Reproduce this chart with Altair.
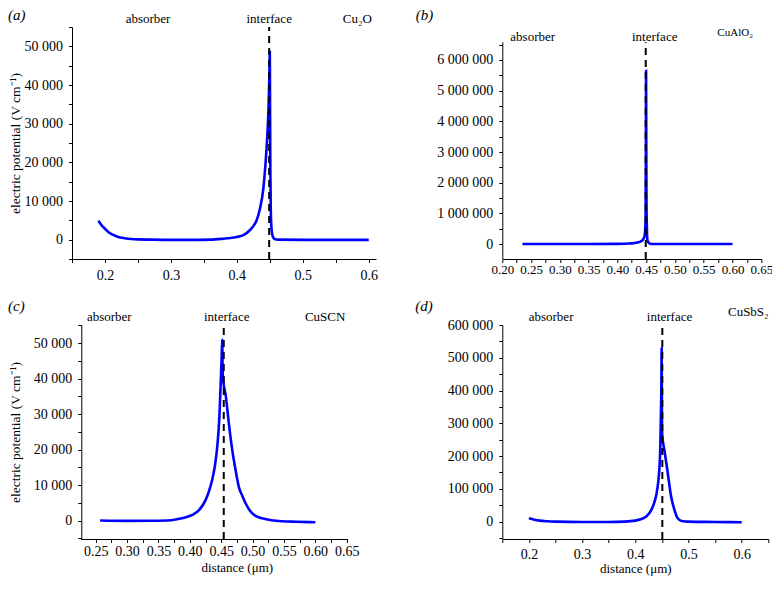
import altair as alt
import pandas as pd

# ---------------- data ----------------
# (a) Cu2O
xa = [0.19, 0.195, 0.20, 0.205, 0.21, 0.215, 0.22, 0.23, 0.24, 0.25, 0.27, 0.30, 0.33, 0.36,
      0.38, 0.39, 0.40, 0.41, 0.42, 0.425, 0.43, 0.435, 0.44, 0.444, 0.4465, 0.448, 0.4493,
      0.4500, 0.4503, 0.4508, 0.4515, 0.453, 0.455, 0.458, 0.462, 0.50, 0.55, 0.60]
ya = [4900, 3700, 2800, 2000, 1450, 1050, 700, 380, 180, 80, 10, -50, -50, 0,
      250, 420, 700, 1150, 2500, 3500, 5000, 8000, 13000, 21000, 28000, 34000, 42000,
      48500, 35000, 18000, 7000, 2000, 600, 100, 0, -50, -50, -50]

# (b) CuAlO2
xb = [0.235, 0.30, 0.35, 0.40, 0.42, 0.43, 0.44, 0.445, 0.447, 0.448, 0.449, 0.4494, 0.4498,
      0.4502, 0.4506, 0.451, 0.4515, 0.452, 0.454, 0.457, 0.46, 0.50, 0.55, 0.60]
yb = [0, 0, 0, 5000, 15000, 35000, 80000, 160000, 250000, 400000, 900000, 2500000, 5650000,
      3000000, 1250000, 700000, 300000, 150000, 50000, 10000, 0, 0, 0, 0]

# (c) CuSCN
xc = [0.257, 0.30, 0.34, 0.37, 0.385, 0.395, 0.404, 0.415, 0.425, 0.43, 0.436, 0.44, 0.444,
      0.447, 0.449, 0.4505, 0.4516, 0.4522, 0.4535, 0.457, 0.4623, 0.4677, 0.473, 0.478,
      0.484, 0.489, 0.4995, 0.507, 0.515, 0.53, 0.547, 0.57, 0.60]
yc = [0, -100, -50, 100, 560, 1000, 1600, 3000, 5750, 8000, 11800, 15500, 21500,
      29000, 38000, 45000, 51000, 42000, 39000, 35400, 27100, 19700, 14100, 9500,
      6800, 4800, 2000, 1100, 650, 100, -200, -350, -500]

# (d) CuSbS2
xd = [0.20, 0.21, 0.22, 0.235, 0.25, 0.30, 0.35, 0.38, 0.40, 0.41, 0.42, 0.43, 0.435, 0.44,
      0.443, 0.445, 0.447, 0.448, 0.449, 0.4495, 0.4502, 0.4506, 0.455, 0.46, 0.4675, 0.4737,
      0.478, 0.483, 0.49, 0.50, 0.55, 0.60]
yd = [10000, 6000, 3000, 1000, 0, -1000, -1000, 0, 3000, 7000, 15000, 35000, 55000, 86000,
      120000, 156000, 230000, 318000, 420000, 530000, 280000, 265000, 215000, 160000, 75000, 35000,
      15000, 5000, 1000, 0, -1000, -2000]

# tick values
xticks_a = [0.15, 0.2, 0.25, 0.3, 0.35, 0.4, 0.45, 0.5, 0.55, 0.6]
xticks_b = [0.2, 0.225, 0.25, 0.275, 0.3, 0.325, 0.35, 0.375, 0.4, 0.425, 0.45, 0.475,
            0.5, 0.525, 0.55, 0.575, 0.6, 0.625, 0.65]
xticks_c = [0.25, 0.275, 0.3, 0.325, 0.35, 0.375, 0.4, 0.425, 0.45, 0.475,
            0.5, 0.525, 0.55, 0.575, 0.6, 0.625, 0.65]
xticks_d = [0.15, 0.2, 0.25, 0.3, 0.35, 0.4, 0.45, 0.5, 0.55, 0.6, 0.65]
yticks_a = [-5000, 0, 5000, 10000, 15000, 20000, 25000, 30000, 35000, 40000, 45000, 50000, 55000]
yticks_b = [-500000, 0, 500000, 1000000, 1500000, 2000000, 2500000, 3000000, 3500000,
            4000000, 4500000, 5000000, 5500000, 6000000, 6500000]
yticks_c = yticks_a
yticks_d = [-50000, 0, 50000, 100000, 150000, 200000, 250000, 300000, 350000, 400000,
            450000, 500000, 550000, 600000]

interfaces = {"a": 0.449, "b": 0.4492, "c": 0.454, "d": 0.4508}
materials = {"a": "Cu\u2082O", "b": "CuAlO\u2082", "c": "CuSCN", "d": "CuSbS\u2082"}

# axis-line extents for the panels whose axis line is shorter than the cell
b_axis_top = 6577000
c_axis_left = 0.227

FONT = "Liberation Serif"
BLUE = "#0000ff"
YTITLE = "electric potential (V cm\u207b\u00b9)"
XTITLE = "distance (\u03bcm)"


def ylabel_expr(step):
    return ("datum.value % " + str(step) + " === 0 && datum.value >= 0 ? "
            "replace(replace(format(datum.value, ','), ',', ' '), ',', ' ') : ''")


def xlabel_expr(mult, fmt):
    return ("abs(datum.value*" + str(mult) + " - round(datum.value*" + str(mult) + ")) < 1e-6 ? "
            "format(datum.value, '" + fmt + "') : ''")


def panel(xs, ys, key, xdom, ydom, w, h, xt, yt, xmult, xfmt, ystep, xlabpad,
          labels, tag_pos, ytitle_x=None, xtitle_pos=None, yoffset=0,
          xdomain_line=True, ydomain_line=True, xlabsize=14):
    df = pd.DataFrame({"x": xs, "y": ys})
    xkw = dict(values=xt, tickCount=len(xt) + 10, labelExpr=xlabel_expr(xmult, xfmt), tickSize=3.5,
               labelPadding=xlabpad, labelFlush=False, labelOverlap=False, grid=False,
               labelFontSize=xlabsize,
               domain=xdomain_line, title=XTITLE if xtitle_pos else None)
    if xtitle_pos:
        xkw.update(titleX=xtitle_pos[0], titleY=xtitle_pos[1],
                   titleBaseline="alphabetic", titleAlign="center")
    ykw = dict(values=yt, tickCount=len(yt) + 10, labelExpr=ylabel_expr(ystep), tickSize=3.5,
               labelPadding=6, labelFlush=False, labelOverlap=False, grid=False,
               domain=ydomain_line, offset=yoffset,
               title=YTITLE if ytitle_x is not None else None)
    if ytitle_x is not None:
        ykw.update(titleX=ytitle_x, titleY=h / 2, titleAngle=270,
                   titleBaseline="alphabetic", titleAlign="center")
    xs_ = alt.Scale(domain=xdom, nice=False, zero=False)
    ys_ = alt.Scale(domain=ydom, nice=False, zero=False)

    line = alt.Chart(df).mark_line(color=BLUE, strokeWidth=2.6, interpolate="monotone").encode(
        x=alt.X("x:Q", scale=xs_, axis=alt.Axis(**xkw)),
        y=alt.Y("y:Q", scale=ys_, axis=alt.Axis(**ykw)),
    )
    one = alt.Data(values=[{}])
    top = ydom[1] if ydomain_line else b_axis_top
    rule = alt.Chart(one).mark_rule(color="black", strokeWidth=2, strokeDash=[7, 5]).encode(
        x=alt.datum(interfaces[key]), y=alt.datum(ydom[0]), y2=alt.datum(top)
    )
    layers = [line, rule]
    if not ydomain_line:
        layers.append(alt.Chart(one).mark_rule(color="black", strokeWidth=1).encode(
            x=alt.value(0.5), y=alt.datum(ydom[0]), y2=alt.datum(b_axis_top)))
    if not xdomain_line:
        layers.append(alt.Chart(one).mark_rule(color="black", strokeWidth=1).encode(
            y=alt.value(h + 0.5), x=alt.datum(c_axis_left), x2=alt.datum(xdom[1])))
    for txt, xv, yv, size in labels:
        layers.append(
            alt.Chart(one).mark_text(font=FONT, fontSize=size, color="black",
                                     align="center", baseline="alphabetic").encode(
                x=alt.datum(xv), y=alt.value(yv), text=alt.value(txt))
        )
    layers.append(
        alt.Chart(one).mark_text(font=FONT, fontSize=15, fontStyle="italic", color="black",
                                 align="left", baseline="alphabetic").encode(
            x=alt.value(tag_pos[0]), y=alt.value(tag_pos[1]), text=alt.value("(" + key + ")"))
    )
    return alt.layer(*layers).properties(width=w, height=h)


pa = panel(xa, ya, "a", [0.15, 0.611], [-5000, 55000], 304, 232, xticks_a, yticks_a,
           10, ".1f", 10000, 6.4,
           [("absorber", 0.2653, -4, 13), ("interface", 0.449, -4, 13), (materials["a"], 0.5827, -4, 13)],
           (-64, -7), ytitle_x=-53)
pb = panel(xb, yb, "b", [0.2, 0.65], [-489000, 7076000], 259, 232, xticks_b, yticks_b,
           20, ".2f", 1000000, 1.2,
           [("absorber", 0.2528, 14.3, 13), ("interface", 0.4648, 14.3, 13), (materials["b"], 0.6046, 8.7, 11)],
           (-86.6, -7), ydomain_line=False, xlabsize=13)
pc = panel(xc, yc, "c", [0.2122, 0.652], [-5200, 55100], 276, 214, xticks_c, yticks_c,
           20, ".2f", 10000, 2,
           [("absorber", 0.2716, -3.6, 13), ("interface", 0.4587, -3.6, 13), (materials["c"], 0.6156, -3.6, 13)],
           (-64, -14), ytitle_x=-62, xtitle_pos=(164.8, 32.5), yoffset=-9.3, xdomain_line=False)
pd_ = panel(xd, yd, "d", [0.15, 0.65], [-53000, 600000], 266, 214, xticks_d, yticks_d,
            10, ".1f", 100000, 5.4,
            [("absorber", 0.2417, -4, 13), ("interface", 0.4643, -4, 13), (materials["d"], 0.6124, -8.6, 13)],
            (-87, -14), xtitle_pos=(133, 33.5))

chart = alt.concat(pa, pb, pc, pd_, columns=2, bounds="flush",
                   spacing={"row": 66, "column": 126.3}).properties(
    padding={"left": 0, "top": 0, "right": -1, "bottom": 0},
    background="white",
).configure_view(stroke=None).configure_axis(
    domainColor="black", tickColor="black", labelColor="black", titleColor="black",
    labelFont=FONT, titleFont=FONT, labelFontSize=14, titleFontSize=13.5,
    titleFontWeight="normal", domainWidth=1, tickWidth=1,
).configure_axisX(titleFontSize=13)

chart.save("out.html", embed_options={"renderer": "svg", "actions": False})
